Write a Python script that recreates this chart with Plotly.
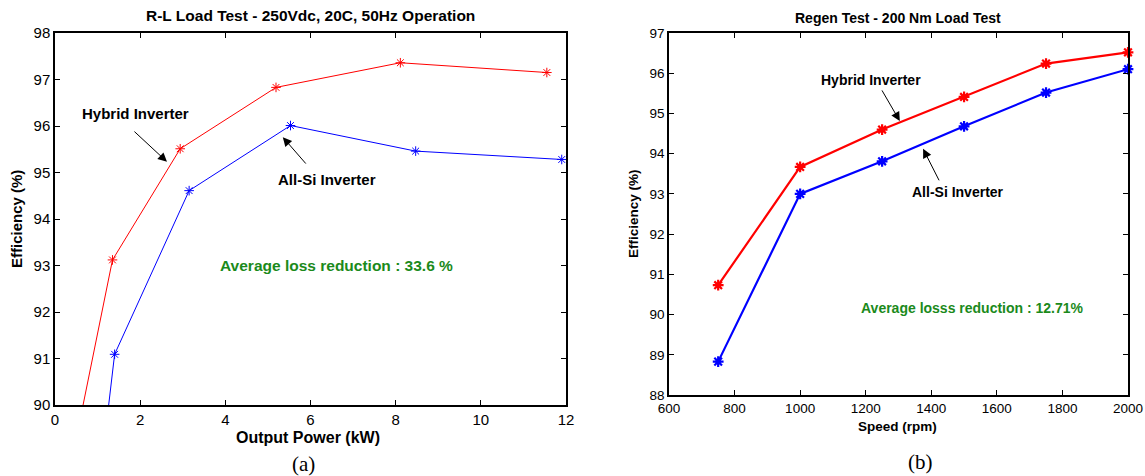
import plotly.graph_objects as go

# Panel (a): R-L load test, efficiency vs output power
power_kw = [0.5, 1.35, 2.94, 5.19, 8.11, 11.55]
hybrid_eff_a = [89.28, 93.12, 95.51, 96.83, 97.36, 97.15]
power_kw_si = [1.2, 1.40, 3.15, 5.53, 8.47, 11.9]
allsi_eff_a = [89.53, 91.09, 94.61, 96.01, 95.46, 95.28]

# Panel (b): regen test, efficiency vs speed
speed_rpm = [750, 1000, 1250, 1500, 1750, 2000]
hybrid_eff_b = [90.73, 93.67, 94.60, 95.41, 96.24, 96.52]
allsi_eff_b = [88.83, 93.00, 93.81, 94.68, 95.52, 96.10]

W, H = 1145, 476
FONT = "Liberation Sans"
GREEN = "#1b8a1b"


def px(x):
    return x / W


def py(y):
    return 1 - y / H


fig = go.Figure()

mk_a = dict(symbol="asterisk-open", size=8, line=dict(width=1))
fig.add_trace(go.Scatter(x=power_kw, y=hybrid_eff_a, mode="lines+markers",
                         line=dict(color="#ff0000", width=1),
                         marker=dict(color="#ff0000", **mk_a),
                         xaxis="x", yaxis="y", cliponaxis=True))
fig.add_trace(go.Scatter(x=power_kw_si, y=allsi_eff_a, mode="lines+markers",
                         line=dict(color="#0000ff", width=1),
                         marker=dict(color="#0000ff", **mk_a),
                         xaxis="x", yaxis="y", cliponaxis=True))

mk_b = dict(symbol="asterisk-open", size=9, line=dict(width=2.2))
fig.add_trace(go.Scatter(x=speed_rpm, y=hybrid_eff_b, mode="lines+markers",
                         line=dict(color="#ff0000", width=2.2),
                         marker=dict(color="#ff0000", **mk_b),
                         xaxis="x2", yaxis="y2", cliponaxis=False))
fig.add_trace(go.Scatter(x=speed_rpm, y=allsi_eff_b, mode="lines+markers",
                         line=dict(color="#0000ff", width=2.2),
                         marker=dict(color="#0000ff", **mk_b),
                         xaxis="x2", yaxis="y2", cliponaxis=False))

axis_common = dict(showline=True, linecolor="black", linewidth=1.5, mirror="ticks",
                   ticks="inside", ticklen=5, tickcolor="black", tickwidth=1,
                   showgrid=False, zeroline=False, automargin=False)

fig.update_layout(
    width=W, height=H, margin=dict(l=0, r=0, t=0, b=0, autoexpand=False),
    paper_bgcolor="white", plot_bgcolor="white", showlegend=False,
    font=dict(family=FONT, color="black"),
    xaxis=dict(domain=[px(55), px(566)], range=[0, 12], tickvals=[0, 2, 4, 6, 8, 10, 12],
               tickfont=dict(size=15), anchor="y", **axis_common),
    yaxis=dict(domain=[py(405), py(33)], range=[90, 98], tickvals=list(range(90, 99)),
               tickfont=dict(size=15), anchor="x", **axis_common),
    xaxis2=dict(domain=[px(669), px(1128)], range=[600, 2000],
                tickvals=list(range(600, 2001, 200)),
                tickfont=dict(size=13.5), anchor="y2", **axis_common),
    yaxis2=dict(domain=[py(395), py(33)], range=[88, 97], tickvals=list(range(88, 98)),
                tickfont=dict(size=13.5), anchor="x2", **axis_common),
)

annotations = []


def label(text, x, y, size=13, bold=True, color="black", angle=0, family=FONT):
    annotations.append(dict(
        text=f"<b>{text}</b>" if bold else text, x=px(x), y=py(y),
        xref="paper", yref="paper", showarrow=False, textangle=angle,
        font=dict(size=size, color=color, family=family),
        xanchor="center", yanchor="middle"))


# Titles, axis titles and panel tags
label("R-L Load Test - 250Vdc, 20C, 50Hz Operation", 310, 16, size=15.5)
label("Regen Test - 200 Nm Load Test", 898, 18, size=14)
label("Output Power (kW)", 308, 437, size=16)
label("Speed (rpm)", 897, 426, size=13.5)
label("Efficiency (%)", 17, 219, size=15, angle=-90)
label("Efficiency (%)", 634, 214, size=13.5, angle=-90)
label("(a)", 303, 464, size=21, bold=False, family="Liberation Serif")
label("(b)", 920, 462, size=21, bold=False, family="Liberation Serif")


def note(text, x, y, xa, ya, size=13, color="black"):
    annotations.append(dict(text=f"<b>{text}</b>", x=x, y=y, xref=xa, yref=ya,
                            showarrow=False, font=dict(size=size, color=color),
                            xanchor="center", yanchor="middle"))


def arrow(x0, y0, x1, y1, xa, ya):
    annotations.append(dict(text="", x=x1, y=y1, ax=x0, ay=y0, xref=xa, yref=ya,
                            axref=xa, ayref=ya, showarrow=True, arrowhead=2,
                            arrowsize=1.8, arrowwidth=1, arrowcolor="black"))


# Panel (a) callouts
note("Hybrid Inverter", 1.90, 96.26, "x", "y", size=15)
arrow(1.83, 95.91, 2.63, 95.23, "x", "y")
note("All-Si Inverter", 6.39, 94.86, "x", "y", size=15)
arrow(5.92, 95.16, 5.35, 95.76, "x", "y")
note("Average loss reduction : 33.6 %", 6.60, 92.99, "x", "y", size=15.5, color=GREEN)

# Panel (b) callouts
note("Hybrid Inverter", 1216, 95.83, "x2", "y2", size=14)
arrow(1247, 95.61, 1304, 94.81, "x2", "y2")
note("All-Si Inverter", 1481, 93.05, "x2", "y2", size=14)
arrow(1426, 93.30, 1375, 94.12, "x2", "y2")
note("Average losss reduction : 12.71%", 1527, 90.16, "x2", "y2", size=14, color=GREEN)

fig.update_layout(annotations=annotations)

fig.write_html("out.html")
